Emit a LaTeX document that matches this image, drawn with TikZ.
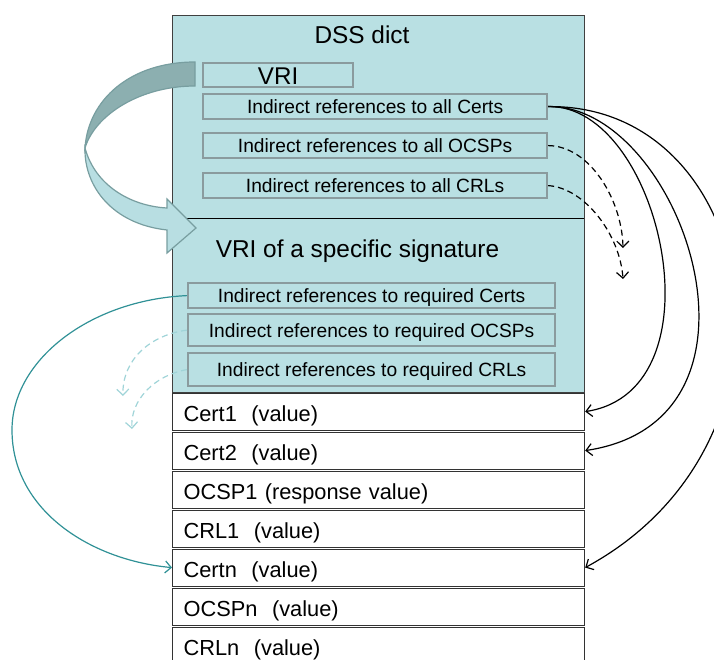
\documentclass[tikz,border=0pt]{standalone}
\usepackage{fontspec}
\setmainfont{Liberation Sans}
\usetikzlibrary{arrows.meta}
\definecolor{dssteal}{RGB}{185,224,227}
\definecolor{iboxgray}{RGB}{138,155,158}
\definecolor{arrowdark}{RGB}{140,175,176}
\definecolor{arrowlight}{RGB}{184,222,226}
\definecolor{arrowline}{RGB}{120,158,160}
\definecolor{tealline}{RGB}{48,145,150}
\definecolor{lightteal}{RGB}{160,212,216}
\begin{document}
\begin{tikzpicture}[x=1pt,y=-1pt,
  mainbox/.style={draw=black!75, line width=1pt, fill=dssteal, anchor=north west, inner sep=0pt, minimum width=412pt, minimum height=377pt},
  ibox/.style={draw=iboxgray, line width=2.2pt, fill=dssteal, inner sep=0pt, anchor=north west,
    font=\fontsize{19.2}{22}\selectfont, text height=16pt, text depth=2pt},
  vbox/.style={draw=black!80, line width=1.2pt, fill=white, anchor=north west, minimum height=37pt,
    inner xsep=11pt, inner ysep=0pt, text width=390pt, align=left,
    font=\fontsize{21.8}{24}\selectfont, text height=22pt, text depth=3pt},
  title/.style={anchor=base, inner sep=0pt, font=\fontsize{24.4}{28}\selectfont},
  refarrow/.style={line width=1.2pt, -{Straight Barb[length=6pt,width=12pt]}},
  dashref/.style={refarrow, dash pattern=on 6pt off 4pt},
  tealref/.style={draw=tealline, line width=1.2pt, -{Straight Barb[length=6pt,width=12pt]}},
  lightref/.style={draw=lightteal, line width=1.2pt, dash pattern=on 6pt off 4pt, -{Straight Barb[length=6pt,width=12pt]}}
]
\useasboundingbox (0,0) rectangle (714,660);
\clip (0,0) rectangle (714,660);

% main DSS box
\node[mainbox] (dss) at (172,15) {};
\draw[line width=1pt] (172,219) -- (584,219);
\node[title] (dsstitle) at (362,44) {DSS dict};
\node[title] (vrititle) at (357.5,257) {VRI of a specific signature};

% big curved arrow
\filldraw[fill=arrowdark, draw=arrowline, line width=1.2pt]
  (195,62) .. controls (130,62) and (88,100) .. (85,148)
  .. controls (95,115) and (140,86) .. (195,86) -- cycle;
\filldraw[fill=arrowlight, draw=arrowline, line width=1.2pt]
  (85,148) .. controls (84,186) and (112,224) .. (167,230)
  -- (167,253) -- (196,228) -- (167,199) -- (167,208)
  .. controls (130,206) and (95,185) .. (85,148) -- cycle;

% inner boxes
\node[ibox, minimum width=150pt, minimum height=24pt, font=\fontsize{24.2}{28}\selectfont, text height=20pt, text depth=2pt] (vri) at (202,62) {VRI};
\node[ibox, minimum width=344pt, minimum height=25pt] (allcerts) at (202,93) {Indirect references to all Certs};
\node[ibox, minimum width=344pt, minimum height=25pt] (allocsp) at (202,132) {Indirect references to all OCSPs};
\node[ibox, minimum width=344pt, minimum height=25pt] (allcrl) at (202,172) {Indirect references to all CRLs};
\node[ibox, minimum width=367pt, minimum height=25pt] (reqcerts) at (187,282) {Indirect references to required Certs};
\node[ibox, minimum width=367pt, minimum height=32pt] (reqocsp) at (187,313) {Indirect references to required OCSPs};
\node[ibox, minimum width=367pt, minimum height=33pt] (reqcrl) at (187,352) {Indirect references to required CRLs};

% value boxes
\node[vbox] (cert1) at (172,392.5) {Cert1~~(value)};
\node[vbox] (cert2) at (172,431.5) {Cert2~~(value)};
\node[vbox] (ocsp1) at (172,470.5) {OCSP1 (response value)};
\node[vbox] (crl1) at (172,509.5) {CRL1~~(value)};
\node[vbox] (certn) at (172,548.5) {Certn~~(value)};
\node[vbox] (ocspn) at (172,587.5) {OCSPn~~(value)};
\node[vbox] (crln) at (172,626.5) {CRLn~~(value)};

% free ends of dashed references
\coordinate (tipA) at (623,248);
\coordinate (tipB) at (623,279);
\coordinate (tipC) at (123,396);
\coordinate (tipD) at (132,429);

% references from DSS dict
\draw[refarrow] (allcerts.east) .. controls (660,104) and (725,390) .. (cert1.east);
\draw[refarrow] (allcerts.east) .. controls (680,104) and (790,420) .. (cert2.east);
\draw[refarrow] (allcerts.east) .. controls (760,104) and (820,440) .. (certn.east);
\draw[dashref] (allocsp.east) .. controls (590,146) and (622,200) .. (tipA);
\draw[dashref] (allcrl.east) .. controls (585,188) and (620,235) .. (tipB);

% references from VRI
\draw[tealref] (reqcerts.west) .. controls (90,300) and (12,360) .. (12,430)
  .. controls (12,510) and (90,560) .. (certn.west);
\draw[lightref] (reqocsp.west) .. controls (150,335) and (122,360) .. (tipC);
\draw[lightref] (reqcrl.west) .. controls (155,375) and (130,400) .. (tipD);
\end{tikzpicture}
\end{document}
